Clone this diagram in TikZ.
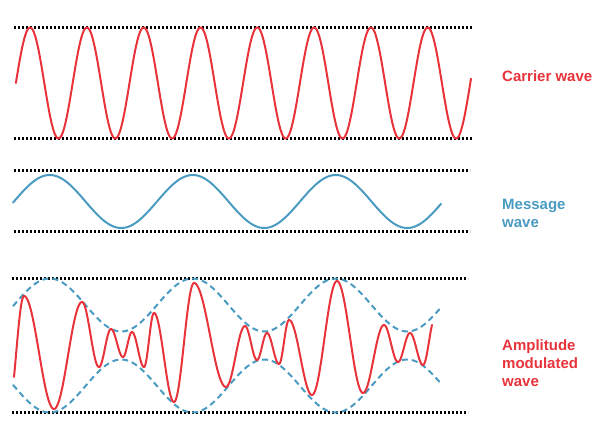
\documentclass[tikz,border=0pt]{standalone}
\usepackage{fontspec}
\setmainfont{Liberation Sans}
\begin{document}
\begin{tikzpicture}[x=1pt,y=-1pt,
  amred/.style={line width=2pt, draw={rgb,255:red,232;green,51;blue,59}, line join=round, line cap=round},
  msgblue/.style={line width=2pt, draw={rgb,255:red,74;green,155;blue,193}, line join=round, line cap=round},
  envdash/.style={line width=2pt, draw={rgb,255:red,74;green,155;blue,193}, dash pattern=on 6pt off 4pt},
  guide/.style={line width=2.2pt, draw=black, dash pattern=on 2pt off 2pt},
  lab/.style={font=\fontsize{15}{18}\selectfont\bfseries, inner sep=0pt, anchor=base west},
  redtext/.style={text={rgb,255:red,232;green,51;blue,59}},
  bluetext/.style={text={rgb,255:red,74;green,155;blue,193}}]
\useasboundingbox (0,0) rectangle (600,434);

% guide lines
\coordinate (c1a) at (14,27.5);  \coordinate (c1b) at (473,27.5);
\coordinate (c2a) at (14,138.5); \coordinate (c2b) at (473,138.5);
\coordinate (m1a) at (14,170.5); \coordinate (m1b) at (470,170.5);
\coordinate (m2a) at (14,231.5); \coordinate (m2b) at (470,231.5);
\coordinate (a1a) at (12,278.5); \coordinate (a1b) at (468,278.5);
\coordinate (a2a) at (12,412.5); \coordinate (a2b) at (468,412.5);
\draw[guide] (c1a) -- (c1b);
\draw[guide] (c2a) -- (c2b);
\draw[guide] (m1a) -- (m1b);
\draw[guide] (m2a) -- (m2b);
\draw[guide] (a1a) -- (a1b);
\draw[guide] (a2a) -- (a2b);

% carrier wave
\draw[amred] plot[domain=15.9:471, samples=500, smooth] (\x, {83 - 55.5*sin(6.338*(\x-15.9))});

% message wave
\draw[msgblue] plot[domain=13:441, samples=300, smooth] (\x, {201.5 - 26.5*sin(2.5175*(\x-14))});

% envelopes
\draw[envdash] plot[domain=13:442, samples=300, smooth] (\x, {345.5 - (40.5 + 26.5*sin(2.5175*(\x-14)))});
\draw[envdash] plot[domain=13:442, samples=300, smooth] (\x, {345.5 + (40.5 + 26.5*sin(2.5175*(\x-14)))});

% amplitude modulated wave
\draw[amred] plot[domain=14:24, samples=20, smooth] (\x, {352.5 + 56.5*cos(180/(24-8.44)*(\x-8.44))})
  \foreach \xa/\ya/\xb/\yb in {24/296/54/409, 54/409/82/302, 82/302/99/367, 99/367/111/329,
     111/329/123/357, 123/357/132/332, 132/332/144/367, 144/367/154/313, 154/313/174/402,
     174/402/194/283, 194/283/226/387, 226/387/245/326, 245/326/257/360, 257/360/267/333,
     267/333/279/364, 279/364/289/320, 289/320/312/395, 312/395/337/281, 337/281/363/393,
     363/393/384/325, 384/325/398/362, 398/362/410/333, 410/333/423/365}
  { -- plot[domain=\xa:\xb, samples=40, smooth] (\x, {(\ya+\yb)/2 + (\ya-\yb)/2*cos(180/(\xb-\xa)*(\x-\xa))}) }
  -- plot[domain=423:432, samples=15, smooth] (\x, {341.5 + 23.5*cos(15*(\x-423))});

% labels
\node[lab, redtext] (carrierlabel) at (502,81) {Carrier wave};
\node[lab, bluetext] (messagelabel) at (502,209) {\vtop{\hbox{Message}\hbox{wave}}};
\node[lab, redtext] (amlabel) at (502,350.7) {\vtop{\hbox{Amplitude}\hbox{modulated}\hbox{wave}}};
\end{tikzpicture}
\end{document}
